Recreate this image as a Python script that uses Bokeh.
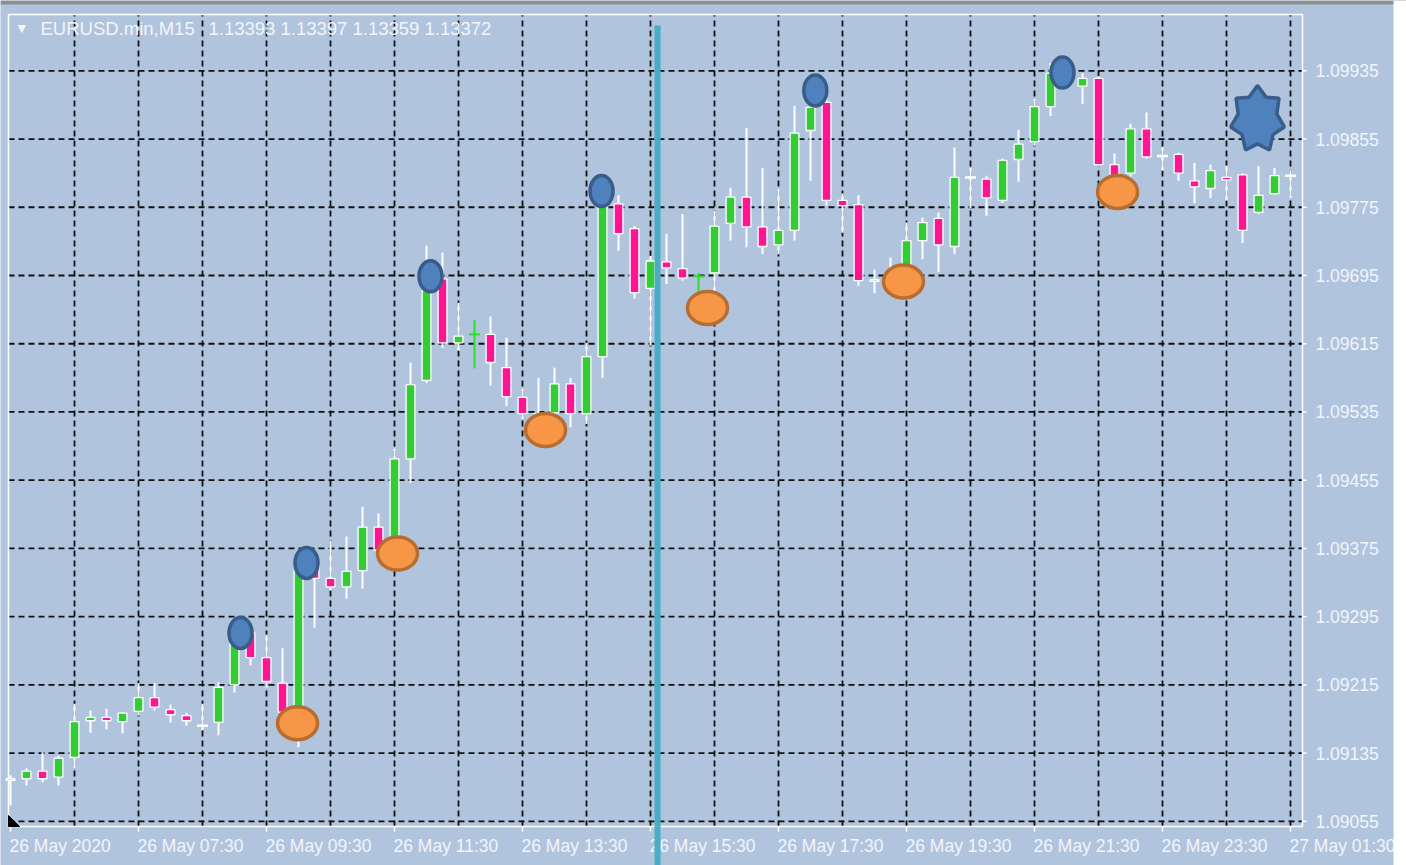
import numpy as np
from bokeh.plotting import figure
from bokeh.models import Range1d, Label, BoxAnnotation, Grid
from bokeh.core.properties import value
from bokeh.embed import file_html
from bokeh.resources import INLINE

# ---------------- data (EURUSD M15 candles) ----------------
opens = [1.09103, 1.09105, 1.09114, 1.09107, 1.09130, 1.09173, 1.09177, 1.09172, 1.09184, 1.09200,
         1.09186, 1.09179, 1.09167, 1.09171, 1.09215, 1.09276, 1.09247, 1.09217, 1.09185, 1.09357,
         1.09340, 1.09330, 1.09349, 1.09400, 1.09370, 1.09480, 1.09572, 1.09691, 1.09616, 1.09626,
         1.09626, 1.09587, 1.09552, 1.09533, 1.09534, 1.09568, 1.09533, 1.09600, 1.09779, 1.09750,
         1.09680, 1.09711, 1.09703, 1.09694, 1.09698, 1.09756, 1.09787, 1.09752, 1.09731, 1.09748,
         1.09865, 1.09898, 1.09783, 1.09778, 1.09688, 1.09683, 1.09703, 1.09736, 1.09762, 1.09729,
         1.09810, 1.09808, 1.09783, 1.09831, 1.09852, 1.09893, 1.09933, 1.09917, 1.09926, 1.09825,
         1.09815, 1.09867, 1.09835, 1.09837, 1.09806, 1.09797, 1.09810, 1.09813, 1.09769, 1.09791,
         1.09812]
highs = [1.09109, 1.09117, 1.09136, 1.09132, 1.09193, 1.09185, 1.09187, 1.09183, 1.09217, 1.09217,
         1.09192, 1.09182, 1.09193, 1.09218, 1.09269, 1.09281, 1.09274, 1.09258, 1.09361, 1.09363,
         1.09384, 1.09389, 1.09424, 1.09416, 1.09492, 1.09593, 1.09730, 1.09722, 1.09663, 1.09643,
         1.09647, 1.09622, 1.09562, 1.09575, 1.09587, 1.09575, 1.09616, 1.09794, 1.09789, 1.09753,
         1.09718, 1.09744, 1.09767, 1.09698, 1.09771, 1.09798, 1.09868, 1.09821, 1.09796, 1.09894,
         1.09909, 1.09903, 1.09791, 1.09789, 1.09702, 1.09716, 1.09757, 1.09763, 1.09769, 1.09845,
         1.09821, 1.09812, 1.09832, 1.09866, 1.09902, 1.09944, 1.09944, 1.09932, 1.09929, 1.09838,
         1.09873, 1.09886, 1.09845, 1.09839, 1.09827, 1.09825, 1.09824, 1.09815, 1.09823, 1.09821,
         1.09818]
lows = [1.09074, 1.09097, 1.09101, 1.09097, 1.09118, 1.09159, 1.09163, 1.09158, 1.09179, 1.09185,
        1.09171, 1.09167, 1.09162, 1.09156, 1.09206, 1.09238, 1.09212, 1.09173, 1.09142, 1.09282,
        1.09326, 1.09316, 1.09328, 1.09366, 1.09358, 1.09452, 1.09569, 1.09610, 1.09607, 1.09586,
        1.09566, 1.09542, 1.09527, 1.09519, 1.09519, 1.09517, 1.09521, 1.09575, 1.09724, 1.09668,
        1.09613, 1.09685, 1.09689, 1.09640, 1.09668, 1.09736, 1.09728, 1.09720, 1.09720, 1.09736,
        1.09806, 1.09777, 1.09745, 1.09683, 1.09674, 1.09671, 1.09689, 1.09714, 1.09699, 1.09720,
        1.09774, 1.09765, 1.09780, 1.09805, 1.09847, 1.09882, 1.09921, 1.09896, 1.09823, 1.09789,
        1.09811, 1.09832, 1.09818, 1.09806, 1.09780, 1.09786, 1.09783, 1.09733, 1.09767, 1.09790,
        1.09786]
closes = [1.09105, 1.09114, 1.09105, 1.09129, 1.09172, 1.09177, 1.09173, 1.09182, 1.09200, 1.09189,
          1.09180, 1.09173, 1.09167, 1.09212, 1.09264, 1.09247, 1.09219, 1.09183, 1.09349, 1.09340,
          1.09330, 1.09348, 1.09400, 1.09373, 1.09480, 1.09567, 1.09677, 1.09616, 1.09624, 1.09626,
          1.09593, 1.09553, 1.09533, 1.09530, 1.09568, 1.09533, 1.09600, 1.09783, 1.09744, 1.09675,
          1.09712, 1.09704, 1.09692, 1.09694, 1.09753, 1.09787, 1.09752, 1.09729, 1.09748, 1.09862,
          1.09892, 1.09783, 1.09777, 1.09689, 1.09690, 1.09698, 1.09736, 1.09757, 1.09731, 1.09810,
          1.09810, 1.09786, 1.09830, 1.09849, 1.09893, 1.09932, 1.09928, 1.09926, 1.09825, 1.09806,
          1.09867, 1.09834, 1.09835, 1.09815, 1.09799, 1.09818, 1.09807, 1.09748, 1.09789, 1.09812,
          1.09812]
green_cross = [29, 43]          # candles drawn as green crosses

price_ticks = [1.09055, 1.09135, 1.09215, 1.09295, 1.09375, 1.09455, 1.09535,
               1.09615, 1.09695, 1.09775, 1.09855, 1.09935]
time_labels = ["26 May 2020", "26 May 07:30", "26 May 09:30", "26 May 11:30", "26 May 13:30",
               "26 May 15:30", "26 May 17:30", "26 May 19:30", "26 May 21:30", "26 May 23:30",
               "27 May 01:30"]
time_label_idx = [0, 8, 16, 24, 32, 40, 48, 56, 64, 72, 80]
vgrid_idx = [4, 8, 12, 16, 20, 24, 28, 32, 36, 40, 44, 48, 52, 56, 60, 64, 68, 72, 76, 80]

header_symbol = "EURUSD.min,M15"
header_prices = "1.13393 1.13397 1.13359 1.13372"

# overlay annotations
top_mark_x = [14.375, 18.5, 26.25, 36.94, 50.3, 65.75]
top_mark_y = [1.09276, 1.09358, 1.09694, 1.09794, 1.09912, 1.09933]
bot_mark_x = [17.94, 24.19, 33.44, 43.56, 55.81, 69.19]
bot_mark_y = [1.09170, 1.09369, 1.09514, 1.09657, 1.09688, 1.09793]
star_x, star_y = 77.94, 1.09878
vline_x = 40.44

# ---------------- geometry ----------------
W, H = 1406, 865
X_LO, X_HI = -0.125, 80.75            # chart window (candle index)
Y_AX, Y_HI = 1.09049, 1.10001         # chart window (price)
CH_LEFT, CH_TOP, CH_W, CH_H = 8, 14, 1294, 812   # chart window in pixels
px_per_x = CH_W / (X_HI - X_LO)
px_per_y = CH_H / (Y_HI - Y_AX)
XR_LO = X_LO - CH_LEFT / px_per_x
XR_HI = XR_LO + W / px_per_x
YR_HI = Y_HI + CH_TOP / px_per_y
YR_LO = YR_HI - H / px_per_y

BG = "#B0C4DE"
TXT = "#F2F5FA"
FONT = "Liberation Sans"

p = figure(frame_width=W, frame_height=H,
           x_range=Range1d(XR_LO, XR_HI), y_range=Range1d(YR_LO, YR_HI),
           x_axis_location=None, y_axis_location=None,
           output_backend="svg", toolbar_location=None,
           background_fill_color=BG, border_fill_color=BG,
           min_border=0)
p.outline_line_color = None
for r in list(p.center):
    if isinstance(r, Grid):
        r.visible = False

# dashed grid inside the chart window
n_p = len(price_ticks)
n_v = len(vgrid_idx)
p.segment(x0=[X_LO] * n_p, y0=price_ticks, x1=[X_HI] * n_p, y1=price_ticks,
          line_color="#111111", line_dash="6 4", line_width=1.8)
p.segment(x0=vgrid_idx, y0=[Y_AX] * n_v, x1=vgrid_idx, y1=[Y_HI] * n_v,
          line_color="#111111", line_dash="6 4", line_width=1.8)

# chart window borders (left, top, bottom, right/price-axis line)
p.segment(x0=[X_LO, X_LO, X_LO, X_HI], y0=[Y_AX, Y_HI, Y_AX, Y_AX],
          x1=[X_LO, X_HI, X_HI, X_HI], y1=[Y_HI, Y_HI, Y_AX, Y_HI],
          line_color="white", line_width=1.5)

# price axis: ticks + labels
p.segment(x0=[X_HI] * n_p, y0=price_ticks, x1=[X_HI + 4 / px_per_x] * n_p, y1=price_ticks,
          line_color="white", line_width=1.5)
p.text(x=[X_HI + 13 / px_per_x] * n_p, y=price_ticks, text=[f"{t:.5f}" for t in price_ticks],
       text_align="left", text_baseline="middle",
       text_font=value(FONT), text_font_size=value("17.5px"), text_color=TXT)

# time axis: ticks + left-aligned labels
n_t = len(time_label_idx)
p.segment(x0=time_label_idx, y0=[Y_AX] * n_t, x1=time_label_idx,
          y1=[Y_AX - 5 / px_per_y] * n_t, line_color="white", line_width=1.5)
p.text(x=time_label_idx, y=[Y_AX - 19 / px_per_y] * n_t, text=time_labels,
       x_offset=-1, text_align="left", text_baseline="middle",
       text_font=value(FONT), text_font_size=value("17.5px"), text_color=TXT)

# ---------------- candles ----------------
idx = list(range(len(opens)))
up_x, up_top, up_bot = [], [], []
dn_x, dn_top, dn_bot = [], [], []
doji_x, doji_y = [], []
gx, gy, g_lo, g_hi = [], [], [], []
w_x, w_lo, w_hi = [], [], []
for i, o, h, l, c in zip(idx, opens, highs, lows, closes):
    if i in green_cross:
        gx.append(i); gy.append(c); g_lo.append(l); g_hi.append(h)
        continue
    w_x.append(i); w_lo.append(l); w_hi.append(h)
    if c > o:
        up_x.append(i); up_top.append(c); up_bot.append(o)
    elif c < o:
        dn_x.append(i); dn_top.append(o); dn_bot.append(c)
    else:
        doji_x.append(i); doji_y.append(c)

p.segment(x0=w_x, y0=w_lo, x1=w_x, y1=w_hi, line_color="white", line_width=2)
p.vbar(x=up_x, top=up_top, bottom=up_bot, width=0.55, fill_color="#32CD32",
       line_color="white", line_width=1.3)
p.vbar(x=dn_x, top=dn_top, bottom=dn_bot, width=0.55, fill_color="#FF1493",
       line_color="white", line_width=1.3)
p.scatter(x=doji_x, y=doji_y, marker="dash", size=11, line_color="white", line_width=2.5)
p.segment(x0=gx, y0=g_lo, x1=gx, y1=g_hi, line_color="#2BE02B", line_width=2)
p.scatter(x=gx, y=gy, marker="dash", size=11, line_color="#2BE02B", line_width=2)

# ---------------- overlays ----------------
p.ellipse(x=top_mark_x, y=top_mark_y, width=23, height=31,
          width_units="screen", height_units="screen",
          fill_color="#4F81BD", line_color="#385D8A", line_width=3.5)
p.ellipse(x=bot_mark_x, y=bot_mark_y, width=40, height=33,
          width_units="screen", height_units="screen",
          fill_color="#F79646", line_color="#B66D31", line_width=3.5)

# seven-pointed star (radii in screen pixels)
ang = np.pi / 2 + np.arange(14) * np.pi / 7
rad = np.where(np.arange(14) % 2 == 0, 1.0, 0.72)
sx = star_x + rad * 27.5 * np.cos(ang) / px_per_x
sy = star_y + rad * 34 * np.sin(ang) / px_per_y
p.patch(x=list(sx), y=list(sy), fill_color="#4F81BD", line_color="#385D8A", line_width=3.5)

# bottom-left shift marker
mw, mh = 11 / px_per_x, 11 / px_per_y
p.patch(x=[X_LO, X_LO, X_LO + mw], y=[Y_AX + mh, Y_AX, Y_AX], fill_color="black", line_color="black")

# window edges (screenshot frame): grey top strip, white right strip
p.quad(left=[XR_LO], right=[XR_HI], top=[YR_HI], bottom=[YR_HI - 4 / px_per_y],
       fill_color="#8E8E8E", line_color=None)
p.quad(left=[XR_LO + 1393 / px_per_x], right=[XR_HI], top=[YR_HI], bottom=[YR_LO],
       fill_color="white", line_color=None)

# header
p.add_layout(Label(x=X_LO, y=Y_HI, x_offset=9, y_offset=-14, text="\u25BC",
                   text_font="DejaVu Sans", text_font_size="11px", text_color=TXT,
                   text_baseline="middle"))
p.add_layout(Label(x=X_LO, y=Y_HI, x_offset=32, y_offset=-14, text=header_symbol,
                   text_font=FONT, text_font_size="18.5px", text_color=TXT,
                   text_baseline="middle"))
p.add_layout(Label(x=X_LO, y=Y_HI, x_offset=200, y_offset=-14, text=header_prices,
                   text_font=FONT, text_font_size="18.5px", text_color=TXT,
                   text_baseline="middle"))

# vertical marker line (overlay)
p.add_layout(BoxAnnotation(left=vline_x - 0.19, right=vline_x + 0.19, bottom=YR_LO,
                           top=Y_HI - 11 / px_per_y,
                           fill_color="#4BACC6", fill_alpha=1.0, line_alpha=0))

open("out.html", "w").write(file_html(p, INLINE))
